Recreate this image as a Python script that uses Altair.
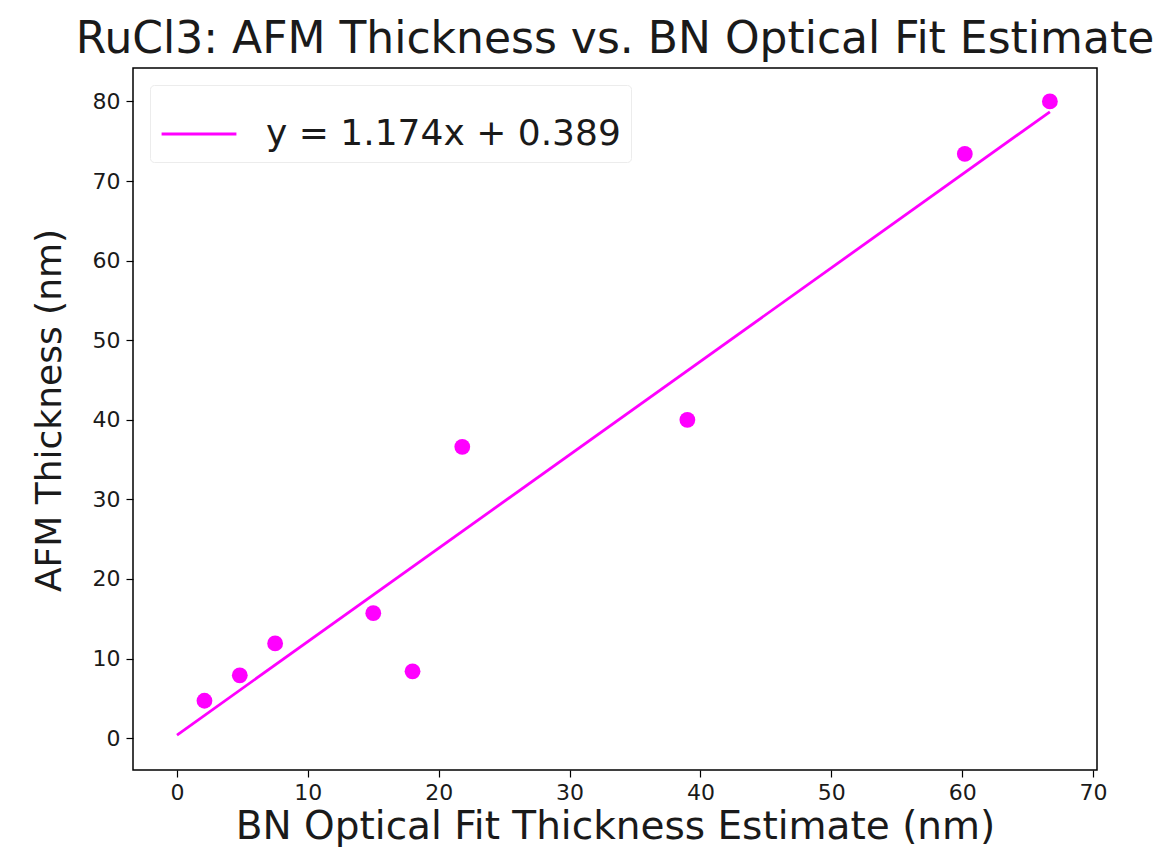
import altair as alt
import pandas as pd

# Measured thicknesses (nm)
bn_optical = [2.1, 4.8, 7.5, 15.0, 18.0, 21.8, 39.0, 60.2, 66.7]
afm = [4.7, 7.9, 11.9, 15.7, 8.4, 36.6, 40.0, 73.4, 80.0]

# Linear fit y = slope * x + intercept
slope = 1.174
intercept = 0.389
fit_label = "y = 1.174x + 0.389"
fit_x = [0.0, 66.7]

pts = pd.DataFrame({"x": bn_optical, "y": afm})
fit = pd.DataFrame({"x": fit_x, "y": [slope * v + intercept for v in fit_x], "series": [fit_label] * 2})

FONT = "DejaVu Sans"
MAGENTA = "#ff00ff"
TEXT = "#1a1a1a"

xscale = alt.Scale(domain=[-3.36, 70.3], nice=False, zero=False)
yscale = alt.Scale(domain=[-4.0, 84.2], nice=False, zero=False)

xaxis = alt.Axis(
    title="BN Optical Fit Thickness Estimate (nm)",
    values=list(range(0, 71, 10)),
    grid=False, domain=False, tickColor="black", tickSize=7, tickWidth=1.2,
    labelFont=FONT, labelFontSize=22, labelColor=TEXT, labelPadding=5,
    titleFont=FONT, titleFontSize=39, titleFontWeight="normal", titleColor=TEXT,
    titlePadding=4,
)
yaxis = alt.Axis(
    title="AFM Thickness (nm)",
    values=list(range(0, 81, 10)),
    grid=False, domain=False, tickColor="black", tickSize=7, tickWidth=1.2,
    labelFont=FONT, labelFontSize=22, labelColor=TEXT, labelPadding=6,
    titleFont=FONT, titleFontSize=36, titleFontWeight="normal", titleColor=TEXT,
    titlePadding=24, titleY=342,
)

line = alt.Chart(fit).mark_line(strokeWidth=2.8).encode(
    x=alt.X("x:Q", scale=xscale, axis=xaxis),
    y=alt.Y("y:Q", scale=yscale, axis=yaxis),
    color=alt.Color(
        "series:N",
        scale=alt.Scale(domain=[fit_label], range=[MAGENTA]),
        legend=alt.Legend(
            title=None, orient="top-left", offset=17,
            symbolType="stroke", symbolSize=5600, symbolStrokeWidth=3,
            labelFont=FONT, labelFontSize=36, labelColor=TEXT, labelOffset=28,
            labelLimit=0, padding=10, strokeColor="#ececec", cornerRadius=4,
            fillColor="white",
        ),
    ),
)

points = alt.Chart(pts).mark_circle(size=250, color=MAGENTA, opacity=1).encode(
    x=alt.X("x:Q", scale=xscale),
    y=alt.Y("y:Q", scale=yscale),
)

chart = (
    alt.layer(line, points)
    .properties(
        width=964,
        height=702,
        title=alt.TitleParams(
            "RuCl3: AFM Thickness vs. BN Optical Fit Estimate",
            font=FONT, fontSize=44, fontWeight="normal", color=TEXT,
            anchor="middle", offset=6,
        ),
        autosize=alt.AutoSizeParams(type="none"),
        padding={"left": 133, "top": 68, "right": 63, "bottom": 89},
        background="white",
    )
    .configure_view(stroke="black", strokeWidth=1.5)
)

chart.save("out.html", embed_options={"renderer": "svg", "actions": False})
